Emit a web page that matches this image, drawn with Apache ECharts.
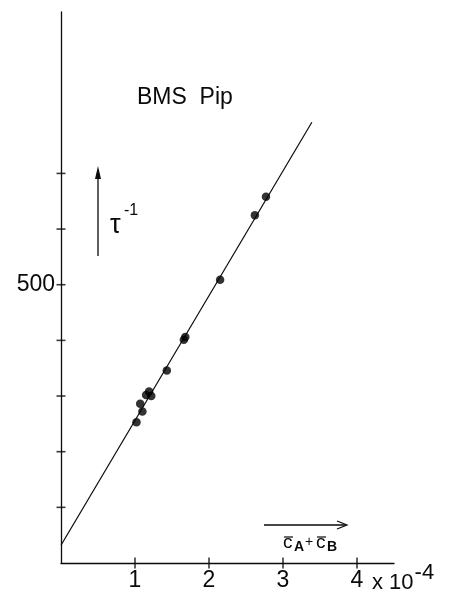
<!DOCTYPE html>
<html>
<head>
<meta charset="utf-8">
<script src="https://cdn.jsdelivr.net/npm/echarts@6/dist/echarts.min.js"></script>
<style>
  html, body { margin: 0; padding: 0; background: #fff; }
  #chart { width: 457px; height: 593px; }
</style>
</head>
<body>
<div id="chart"></div>
<script>
// Relaxation rate vs. summed concentration, BMS in piperidine
const concX = [1.02, 1.10, 1.07, 1.19, 1.22, 1.15, 1.43, 1.66, 1.68, 2.15, 2.62, 2.77]; // × 10^-4
const rateY = [253, 272, 286, 308, 300, 302, 346, 401, 406, 509, 625, 658];             // τ^-1

// Fitted straight line (end points)
const fitX = [0, 3.39];
const fitY = [32, 792];

// Axis tick positions
const xTicks = [1, 2, 3, 4];
const yTicks = [100, 200, 300, 400, 500, 600, 700];
const yLabelled = [500];

const FONT = 'Liberation Sans, Arial, sans-serif';
const INK = '#0a0a0a';

const chart = echarts.init(document.getElementById('chart'), null, { renderer: 'canvas' });

const txt = (left, top, text, font) => ({
  type: 'text', left, top, style: { text, font: font + ' ' + FONT, fill: INK }
});
const seg = (x1, y1, x2, y2, w) => ({
  type: 'line', shape: { x1, y1, x2, y2 }, style: { stroke: INK, lineWidth: w || 1.3 }
});

const option = {
  backgroundColor: '#fff',
  animation: false,
  grid: { left: 61, top: 12, width: 333, height: 551, containLabel: false },
  xAxis: {
    type: 'value', min: 0, max: 4.5, interval: 1,
    axisLine: { lineStyle: { color: INK, width: 1.3 } },
    axisTick: { show: false },
    splitLine: { show: false },
    axisLabel: {
      margin: 6, fontSize: 23, color: INK, fontFamily: FONT,
      formatter: v => (xTicks.indexOf(v) >= 0 ? String(v) : '')
    }
  },
  yAxis: {
    type: 'value', min: 0, max: 990, interval: 100,
    axisLine: { show: true, lineStyle: { color: INK, width: 1.3 } },
    axisTick: { show: false },
    splitLine: { show: false },
    axisLabel: {
      margin: 6, fontSize: 23, color: INK, fontFamily: FONT,
      formatter: v => (yLabelled.indexOf(v) >= 0 ? String(v) : '')
    }
  },
  series: [
    {
      // fitted straight line
      type: 'line',
      data: fitX.map((x, i) => [x, fitY[i]]),
      symbol: 'none',
      lineStyle: { color: INK, width: 1.2 },
      clip: false,
      z: 2
    },
    {
      // measured points
      type: 'scatter',
      data: concX.map((x, i) => [x, rateY[i]]),
      symbol: 'circle',
      symbolSize: 8.5,
      itemStyle: { color: '#000' },
      z: 3
    },
    {
      // x-axis ticks crossing the axis line
      type: 'scatter',
      data: xTicks.map(x => [x, 0]),
      symbol: 'rect',
      symbolSize: [1.6, 11],
      itemStyle: { color: INK },
      clip: false,
      silent: true,
      z: 4
    },
    {
      // y-axis ticks crossing the axis line
      type: 'scatter',
      data: yTicks.map(y => [0, y]),
      symbol: 'rect',
      symbolSize: [9, 1.6],
      itemStyle: { color: INK },
      clip: false,
      silent: true,
      z: 4
    }
  ],
  graphic: [
    txt(137, 86, 'BMS  Pip', '23px'),
    // τ^-1 with upward arrow
    seg(98, 256, 98, 174),
    {
      type: 'polygon', shape: { points: [[98, 166], [95, 179], [101, 179]] },
      style: { fill: INK }
    },
    txt(110, 212, 'τ', '27px'),
    txt(124, 203, '-1', '16px'),
    // c̄A + c̄B with rightward arrow
    seg(264, 525, 346, 525),
    {
      type: 'polyline', shape: { points: [[337, 521], [347, 525], [337, 529]] },
      style: { stroke: INK, lineWidth: 1.2, fill: null }
    },
    txt(283, 533, 'c', '19px'),
    txt(294, 540, 'A', 'bold 14px'),
    txt(305, 535, '+', '14px'),
    txt(316, 533, 'c', '19px'),
    txt(327, 540, 'B', 'bold 14px'),
    seg(284, 537, 293, 537, 1.2),
    seg(317, 537, 326, 537, 1.2),
    // exponent of the x-axis unit
    {
      type: 'text', left: 372, top: 562,
      style: {
        text: '{a|x 10}{e|-4}',
        rich: {
          a: { font: '22px ' + FONT, fill: INK, padding: [8, 0, 0, 0] },
          e: { font: '22px ' + FONT, fill: INK, padding: [0, 0, 12, 1] }
        }
      }
    }
  ]
};

chart.setOption(option);
</script>
</body>
</html>
